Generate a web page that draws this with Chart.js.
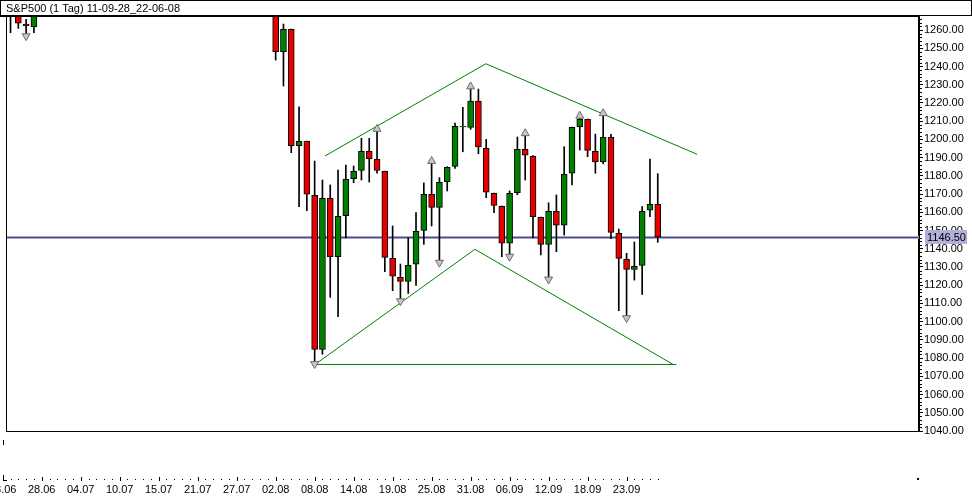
<!DOCTYPE html>
<html>
<head>
<meta charset="utf-8">
<script src="https://cdn.jsdelivr.net/npm/chart.js@4.4.1/dist/chart.umd.min.js"></script>
<style>
  html, body { margin: 0; padding: 0; background: #fff; overflow: hidden; }
  canvas { display: block; }
</style>
</head>
<body>
<canvas id="chart" width="972" height="502"></canvas>
<script>
var title = 'S&P500 (1 Tag) 11-09-28_22-06-08';

// one label every 5 bars, starting with bar 0
var tickLabels = ['23.06', '28.06', '04.07', '10.07', '15.07', '21.07', '27.07', '02.08', '08.08',
  '14.08', '19.08', '25.08', '31.08', '06.09', '12.09', '18.09', '23.09'];

var opens = [1268, 1276, 1272, 1263.3, 1261.8, 1272, 1283, 1296, 1307, 1320,
  1339, 1337, 1353, 1343, 1319, 1313, 1317, 1308, 1316, 1305,
  1326, 1343, 1345, 1336, 1331, 1326, 1305, 1300, 1296, 1292,
  1286, 1290, 1287, 1293, 1285, 1280, 1248.1, 1260.4, 1196.5, 1198.9,
  1169.3, 1084.8, 1167.7, 1135.6, 1158.1, 1178.4, 1183.0, 1193.4, 1189.1, 1182.5,
  1134.7, 1124.3, 1122.1, 1131.5, 1150.1, 1169.9, 1162.7, 1176.8, 1185.2, 1206.8,
  1206.6, 1221.0, 1195.1, 1170.4, 1163.3, 1143.0, 1170.7, 1194.5, 1190.9, 1157.2,
  1142.4, 1160.5, 1152.9, 1181.4, 1206.9, 1211.0, 1193.4, 1187.7, 1201.1, 1148.5,
  1134.2, 1128.7, 1130.9, 1161.1, 1164.4];
var highs = [1278, 1281, 1275, 1265.9, 1276, 1284, 1298, 1310, 1321, 1341,
  1340, 1356, 1354, 1344, 1322, 1328, 1327, 1318, 1317, 1328,
  1346, 1347, 1349, 1343, 1338, 1332, 1309, 1304, 1307, 1307,
  1300, 1298, 1296, 1297, 1292, 1285, 1263.3, 1260.6, 1217.9, 1199.1,
  1188.1, 1177.7, 1175.0, 1183.2, 1185.9, 1185.4, 1200.6, 1200.6, 1205.7, 1182.6,
  1152.5, 1131.6, 1146.0, 1159.8, 1176.1, 1188.1, 1179.0, 1185.0, 1209.0, 1217.6,
  1229.0, 1227.6, 1200.0, 1170.6, 1163.5, 1171.7, 1201.3, 1203.3, 1191.1, 1157.4,
  1165.2, 1169.5, 1196.0, 1206.8, 1212.9, 1211.2, 1202.9, 1214.3, 1202.8, 1150.8,
  1137.5, 1143.7, 1163.1, 1189.2, 1181.2];
var lows = [1262, 1258.5, 1260.9, 1256.7, 1258.5, 1269, 1280, 1294, 1305, 1318,
  1330, 1335, 1330, 1315, 1303, 1310, 1306, 1302, 1303, 1300,
  1323, 1335, 1330, 1325, 1320, 1300, 1295, 1290, 1282, 1275,
  1280, 1283, 1281, 1279, 1272, 1243.5, 1229.3, 1192.7, 1163.1, 1160.9,
  1076.8, 1082.1, 1113.3, 1102.7, 1146.0, 1176.2, 1177.7, 1176.6, 1181.4, 1127.4,
  1117.0, 1111.3, 1115.5, 1119.9, 1142.4, 1152.5, 1132.4, 1171.7, 1184.1, 1193.2,
  1205.5, 1192.1, 1168.0, 1159.8, 1135.6, 1135.7, 1169.6, 1177.7, 1146.0, 1136.6,
  1123.2, 1138.4, 1147.5, 1175.0, 1194.2, 1190.5, 1181.4, 1186.6, 1145.5, 1106.0,
  1102.0, 1122.8, 1115.0, 1157.6, 1143.5];
var closes = [1270, 1271, 1263.7, 1262.2, 1272, 1283, 1296, 1307, 1320, 1339,
  1337, 1353, 1343, 1319, 1313, 1317, 1308, 1316, 1305, 1326,
  1343, 1345, 1336, 1331, 1326, 1305, 1300, 1296, 1292, 1286,
  1290, 1287, 1293, 1285, 1280, 1248.1, 1260.4, 1196.5, 1198.9, 1169.9,
  1084.8, 1167.7, 1135.6, 1157.8, 1178.1, 1182.5, 1193.4, 1189.4, 1183.0, 1135.3,
  1125.0, 1122.1, 1130.9, 1149.6, 1169.9, 1162.7, 1176.4, 1184.7, 1207.2, 1207.2,
  1221.0, 1195.8, 1171.0, 1163.8, 1143.0, 1170.4, 1194.5, 1191.3, 1157.6, 1142.4,
  1160.5, 1152.9, 1181.0, 1206.6, 1211.0, 1194.0, 1187.7, 1201.1, 1149.0, 1134.7,
  1128.7, 1130.4, 1160.5, 1164.4, 1146.5];

// fractal arrows (bar indexes)
var upFractals = [48, 55, 60, 67, 74, 77];
var downFractals = [3, 40, 51, 56, 65, 70, 80];

// hand drawn trend lines, in (bar index, price)
var upperLine = [{ x: 41.32, y: 1190.9 }, { x: 61.96, y: 1241.5 }, { x: 89.05, y: 1191.8 }];
var lowerLine = [{ x: 40.04, y: 1076.5 }, { x: 60.55, y: 1139.7 }, { x: 85.97, y: 1076.5 }];
var baseLine = [{ x: 40.04, y: 1076.5 }, { x: 86.4, y: 1076.5 }];

var lastPrice = closes[closes.length - 1];

var UP = '#008000', DOWN = '#e60000', LINE = '#008000';
var FONT = '"Liberation Sans", Arial, sans-serif';
Chart.defaults.font.family = FONT;
Chart.defaults.font.size = 11;
Chart.defaults.color = '#000';

var bodies = opens.map(function(o, i) { return { x: i, y: [o, closes[i]] }; });
var wicks = lows.map(function(l, i) { return { x: i, y: [l, highs[i]] }; });
var bodyColors = opens.map(function(o, i) { return closes[i] >= o ? UP : DOWN; });

// frame, title, tick row, price line
var decor = {
  id: 'decor',
  beforeDatasetsDraw: function(chart) {
    var ctx = chart.ctx, a = chart.chartArea;
    var py = Math.round(chart.scales.y.getPixelForValue(lastPrice));
    ctx.save();
    ctx.fillStyle = '#a8a8cc';
    ctx.fillRect(a.left, py - 1, a.right - a.left, 3);
    ctx.fillStyle = '#4a4a7e';
    ctx.fillRect(a.left, py, a.right - a.left, 1);
    ctx.restore();
  },
  afterDraw: function(chart) {
    var ctx = chart.ctx, a = chart.chartArea;
    var xs = chart.scales.x, ys = chart.scales.y;
    ctx.save();
    ctx.fillStyle = '#000';
    // title box
    ctx.strokeStyle = '#000';
    ctx.lineWidth = 1;
    ctx.strokeRect(0.5, 0.5, 971, 15);
    ctx.fillRect(0, 15, a.right, 2);
    ctx.font = '11px ' + FONT;
    ctx.textBaseline = 'alphabetic';
    ctx.fillText(title, 6, 12);
    // left frame
    ctx.fillRect(a.left, a.top, 1, a.bottom - a.top);
    // x tick row
    for (var i = 0; i < closes.length; i++) {
      var px = Math.round(xs.getPixelForValue(i));
      if (i === 0) { ctx.fillRect(px, 475, 1, 6); ctx.fillRect(px, 480, 4, 1); }
      else if (i % 5 === 0) ctx.fillRect(px, 477, 1, 4);
      else ctx.fillRect(px, 479, 1, 1);
    }
    ctx.fillRect(Math.round(xs.getPixelForValue(0)), 440, 1, 5);
    ctx.fillRect(a.right - 2, 478, 2, 2);
    // minor y ticks
    for (var v = 1042; v < ys.max; v += 2) {
      if (v % 10 === 0) continue;
      ctx.fillRect(a.right + 1, Math.round(ys.getPixelForValue(v)), 2, 1);
    }
    // last price label
    var py = Math.round(ys.getPixelForValue(lastPrice));
    ctx.fillStyle = '#b0b0d8';
    ctx.fillRect(a.right + 6, py - 7, 42, 14);
    ctx.fillStyle = '#000';
    ctx.textBaseline = 'middle';
    ctx.fillText(lastPrice.toFixed(2), a.right + 8, py + 1);
    ctx.restore();
  }
};

function marker(idx, vals, rot) {
  return {
    type: 'line',
    data: idx.map(function(i) { return { x: i, y: vals[i] }; }),
    showLine: false,
    pointStyle: 'triangle',
    pointRotation: rot,
    pointRadius: 4.6,
    pointBackgroundColor: '#c8c8c8',
    pointBorderColor: '#6a6a6a',
    pointBorderWidth: 1
  };
}

function trend(pts, w) {
  return { type: 'line', data: pts, borderColor: LINE, borderWidth: w, pointRadius: 0, fill: false, tension: 0 };
}

new Chart(document.getElementById('chart'), {
  type: 'bar',
  data: {
    datasets: [
      marker(upFractals, highs, 0),
      marker(downFractals, lows, 180),
      trend(upperLine, 1),
      trend(lowerLine, 1),
      trend(baseLine, 1),
      {
        data: bodies, backgroundColor: bodyColors, borderColor: '#000', borderWidth: 1, borderSkipped: false,
        grouped: false, categoryPercentage: 1, barPercentage: 1, maxBarThickness: 6
      },
      {
        data: wicks, backgroundColor: '#000', borderWidth: 0,
        grouped: false, categoryPercentage: 1, barPercentage: 1, maxBarThickness: 1
      }
    ]
  },
  options: {
    responsive: false,
    animation: false,
    events: [],
    layout: { padding: { left: 6, top: 16, right: 0, bottom: 0 } },
    plugins: { legend: { display: false }, tooltip: { enabled: false }, title: { display: false } },
    scales: {
      x: {
        type: 'linear', min: 0.42, max: 117.5, offset: false,
        afterBuildTicks: function(s) { s.ticks = tickLabels.map(function(t, k) { return { value: k * 5 }; }); },
        afterFit: function(s) { s.height = 71; s.paddingLeft = 0; s.paddingRight = 0; },
        border: { display: true, color: '#000', width: 1 },
        grid: { drawOnChartArea: false, drawTicks: false, offset: false },
        ticks: {
          autoSkip: false, maxRotation: 0, minRotation: 0, padding: 52, color: '#000',
          font: { size: 11 },
          callback: function(v) { return tickLabels[Math.round(v / 5)] || ''; }
        }
      },
      y: {
        type: 'linear', position: 'right', min: 1040, max: 1267.7,
        afterFit: function(s) { s.width = 53; s.paddingTop = 0; s.paddingBottom = 0; },
        border: { display: true, color: '#000', width: 2 },
        grid: { drawOnChartArea: false, drawTicks: true, tickLength: 4, color: '#000', lineWidth: 1 },
        ticks: {
          stepSize: 10, includeBounds: false, padding: 1, color: '#000', font: { size: 11 },
          callback: function(v) { return v.toFixed(2); }
        }
      }
    }
  },
  plugins: [decor]
});
</script>
</body>
</html>
